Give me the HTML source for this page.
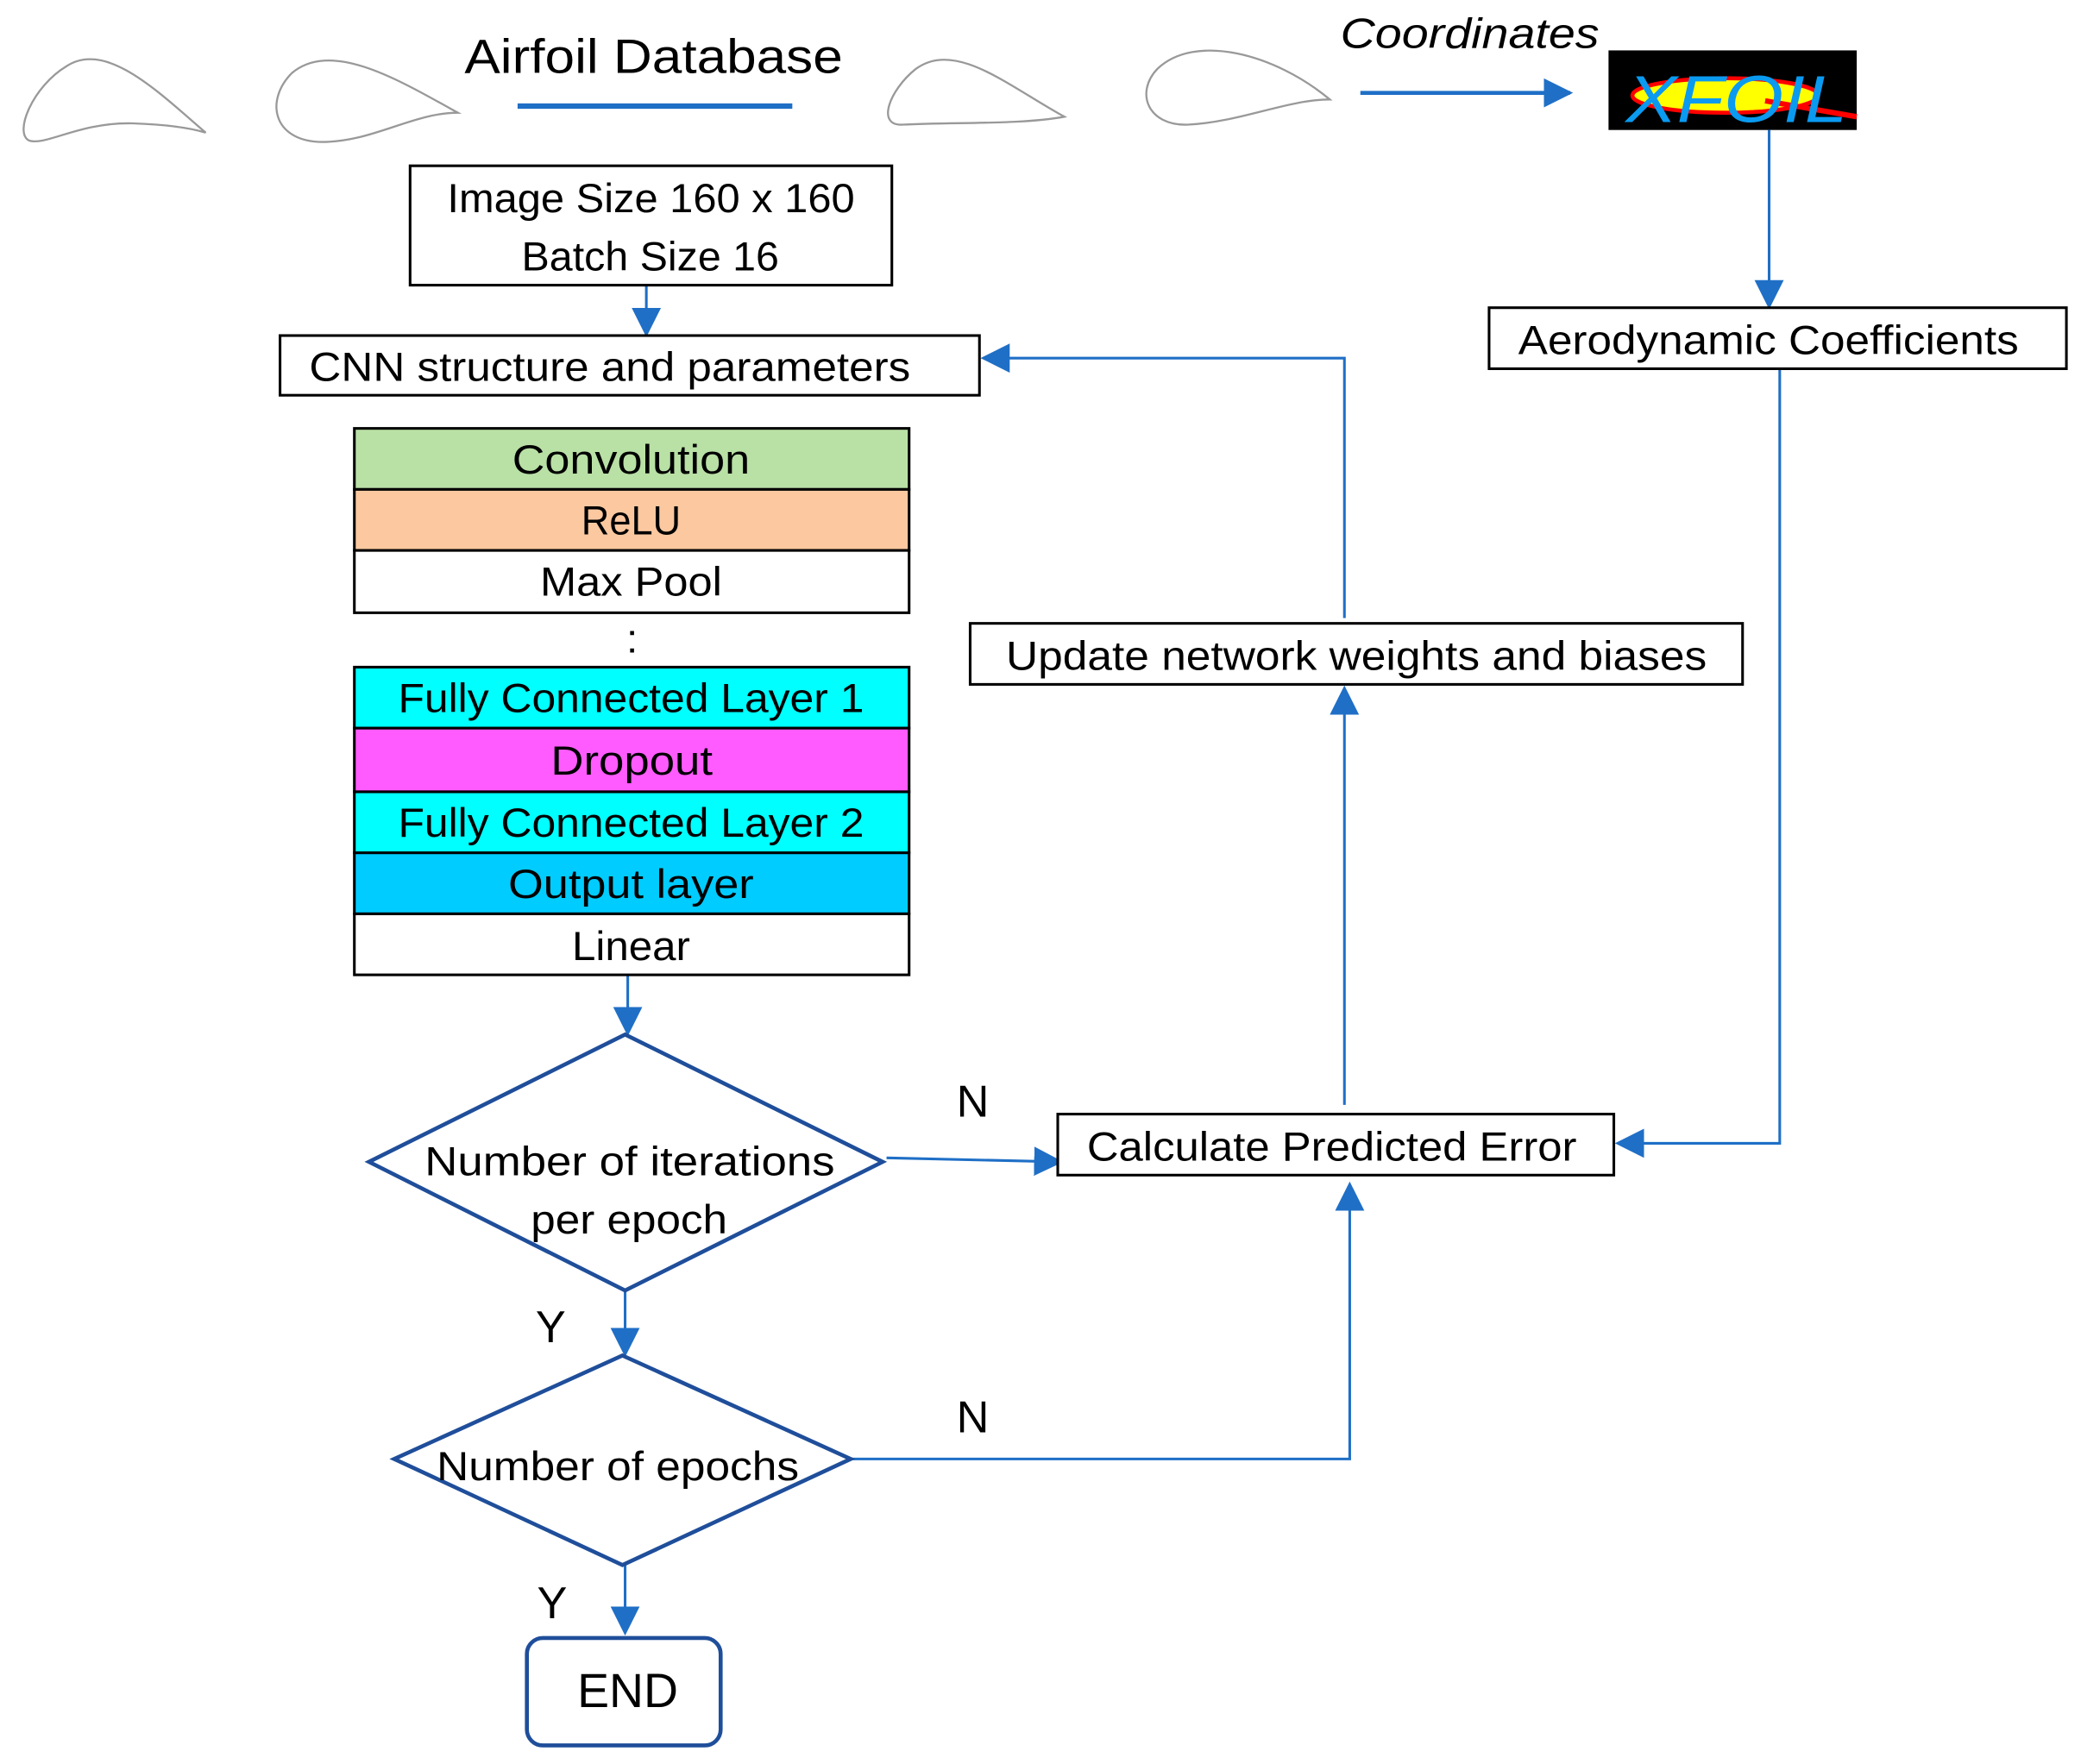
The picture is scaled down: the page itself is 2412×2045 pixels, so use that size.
<!DOCTYPE html>
<html><head><meta charset="utf-8"><style>
html,body{margin:0;padding:0;background:#fff;}
svg{display:block;}
text{font-family:"Liberation Sans",sans-serif;fill:#000;}
</style></head><body>
<svg width="2412" height="2045" viewBox="0 0 1568 1330" preserveAspectRatio="none" xmlns="http://www.w3.org/2000/svg">
<defs>
<marker id="b" viewBox="0 0 10 10" refX="9" refY="5" markerWidth="22" markerHeight="22" markerUnits="userSpaceOnUse" orient="auto"><path d="M0,0 L10,5 L0,10 z" fill="#1f6fc6"/></marker>
</defs>
<g fill="none" stroke="#999" stroke-width="1.5">
<path d="M155,100 C120,70 80,30 50,50 C25,65 10,100 22,106 C35,110 60,92 100,93 C130,94 145,97 155,100 Z"/>
<path d="M345,85 C300,60 250,30 220,55 C200,75 205,105 240,107 C280,108 310,85 345,85 Z"/>
<path d="M802,88 C760,65 720,30 690,52 C670,68 660,95 680,94 C720,92 770,94 802,88 Z"/>
<path d="M1002,75 C960,40 900,25 872,52 C855,70 865,95 895,94 C935,92 970,75 1002,75 Z"/>
</g>
<text x="350" y="55" font-size="36" textLength="285" lengthAdjust="spacingAndGlyphs">Airfoil Database</text>
<line x1="390" y1="80" x2="597" y2="80" stroke="#1f6fc6" stroke-width="4"/>
<text x="1010" y="36" font-size="32" font-style="italic" textLength="195" lengthAdjust="spacingAndGlyphs">Coordinates</text>
<line x1="1025" y1="70" x2="1183" y2="70" stroke="#1f6fc6" stroke-width="3" marker-end="url(#b)"/>
<rect x="1212" y="38" width="187" height="60" fill="#000"/>
<ellipse cx="1300" cy="72" rx="70" ry="13" fill="#ff0" stroke="#f00" stroke-width="3"/>
<line x1="1330" y1="76" x2="1399" y2="88" stroke="#f00" stroke-width="4"/>
<text x="1225" y="92" font-size="50" font-style="italic" style="fill:#0a9af0" textLength="167" lengthAdjust="spacingAndGlyphs">XFOIL</text>
<g stroke="#1f6fc6" stroke-width="2" fill="none">
<line x1="1333" y1="98" x2="1333" y2="231" marker-end="url(#b)"/>
<polyline points="1341,278 1341,862 1219,862" marker-end="url(#b)"/>
<line x1="487" y1="215" x2="487" y2="252" marker-end="url(#b)"/>
<polyline points="1013,466 1013,270 741,270" marker-end="url(#b)"/>
<line x1="473" y1="735" x2="473" y2="779" marker-end="url(#b)"/>
<line x1="668" y1="873" x2="799" y2="876" marker-end="url(#b)"/>
<line x1="1013" y1="833" x2="1013" y2="519" marker-end="url(#b)"/>
<line x1="471" y1="973" x2="471" y2="1021" marker-end="url(#b)"/>
<polyline points="641,1100 1017,1100 1017,893" marker-end="url(#b)"/>
<line x1="471" y1="1180" x2="471" y2="1231" marker-end="url(#b)"/>
</g>
<g stroke="#000" stroke-width="2">
<rect x="1122" y="232" width="435" height="46" fill="#fff"/>
<rect x="309" y="125" width="363" height="90" fill="#fff"/>
<rect x="211" y="253" width="527" height="45" fill="#fff"/>
<rect x="267" y="323" width="418" height="46" fill="#b9e0a5"/>
<rect x="267" y="369" width="418" height="46" fill="#fbc8a0"/>
<rect x="267" y="415" width="418" height="47" fill="#fff"/>
<rect x="267" y="503" width="418" height="46" fill="#00ffff"/>
<rect x="267" y="549" width="418" height="48" fill="#ff5bff"/>
<rect x="267" y="597" width="418" height="46" fill="#00ffff"/>
<rect x="267" y="643" width="418" height="46" fill="#00ccff"/>
<rect x="267" y="689" width="418" height="46" fill="#fff"/>
<rect x="731" y="470" width="582" height="46" fill="#fff"/>
<rect x="797" y="840" width="419" height="46" fill="#fff"/>
</g>
<g font-size="31" lengthAdjust="spacingAndGlyphs">
<text x="1144" y="267" textLength="377" lengthAdjust="spacingAndGlyphs">Aerodynamic Coefficients</text>
<text x="337" y="160" textLength="307" lengthAdjust="spacingAndGlyphs">Image Size 160 x 160</text>
<text x="393" y="204" textLength="194" lengthAdjust="spacingAndGlyphs">Batch Size 16</text>
<text x="233" y="287" textLength="453" lengthAdjust="spacingAndGlyphs">CNN structure and parameters</text>
<text x="386" y="357" textLength="179" lengthAdjust="spacingAndGlyphs">Convolution</text>
<text x="438" y="403" textLength="75" lengthAdjust="spacingAndGlyphs">ReLU</text>
<text x="407" y="449" textLength="137" lengthAdjust="spacingAndGlyphs">Max Pool</text>
<text x="472" y="492">:</text>
<text x="300" y="537" textLength="351" lengthAdjust="spacingAndGlyphs">Fully Connected Layer 1</text>
<text x="415" y="584" textLength="122" lengthAdjust="spacingAndGlyphs">Dropout</text>
<text x="300" y="631" textLength="351" lengthAdjust="spacingAndGlyphs">Fully Connected Layer 2</text>
<text x="383" y="677" textLength="185" lengthAdjust="spacingAndGlyphs">Output layer</text>
<text x="431" y="724" textLength="89" lengthAdjust="spacingAndGlyphs">Linear</text>
<text x="758" y="505" textLength="528" lengthAdjust="spacingAndGlyphs">Update network weights and biases</text>
<text x="819" y="875" textLength="369" lengthAdjust="spacingAndGlyphs">Calculate Predicted Error</text>
</g>
<g fill="#fff" stroke="#1f4e9a" stroke-width="3">
<polygon points="471,780 665,876 471,973 278,876"/>
<polygon points="469,1022 641,1100 469,1180 297,1100"/>
<rect x="397" y="1235" width="146" height="81" rx="12"/>
</g>
<g font-size="31">
<text x="320" y="886" textLength="309" lengthAdjust="spacingAndGlyphs">Number of iterations</text>
<text x="400" y="930" textLength="148" lengthAdjust="spacingAndGlyphs">per epoch</text>
<text x="329" y="1116" textLength="273" lengthAdjust="spacingAndGlyphs">Number of epochs</text>
<text x="435" y="1287" font-size="36" textLength="76" lengthAdjust="spacingAndGlyphs">END</text>
<text x="733" y="842" font-size="34" text-anchor="middle">N</text>
<text x="733" y="1080" font-size="34" text-anchor="middle">N</text>
<text x="415" y="1012" font-size="34" text-anchor="middle">Y</text>
<text x="416" y="1220" font-size="34" text-anchor="middle">Y</text>
</g>
</svg>
</body></html>
